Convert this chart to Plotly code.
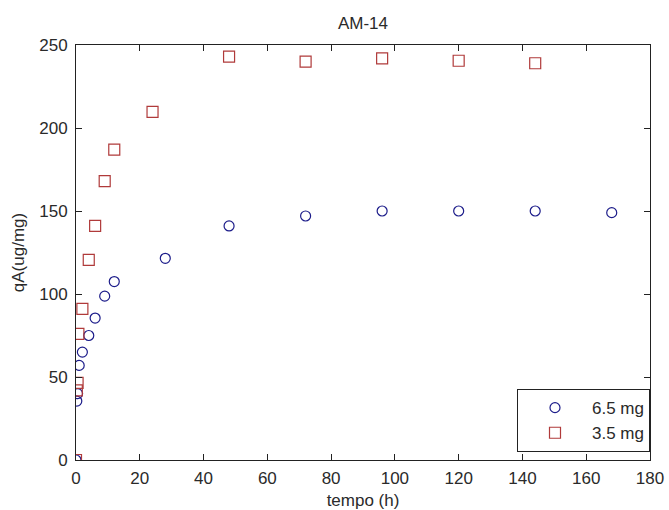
import plotly.graph_objects as go

# Data
t_65 = [0, 0.25, 0.5, 1, 2, 4, 6, 9, 12, 28, 48, 72, 96, 120, 144, 168]
q_65 = [0, 35.5, 40, 57, 65, 75, 85.5, 98.7, 107.5, 121.5, 141, 147, 150, 150, 150, 149]

t_35 = [0, 0.25, 0.5, 0.75, 2, 4, 6, 9, 12, 24, 48, 72, 96, 120, 144]
q_35 = [0, 42, 46.5, 76, 91, 120.5, 141, 168, 187, 209.7, 243, 240, 242, 240.5, 239]

x_ticks = [0, 20, 40, 60, 80, 100, 120, 140, 160, 180]
y_ticks = [0, 50, 100, 150, 200, 250]

FONT = "Liberation Sans, Arial, sans-serif"
FS = 17
TXT = "#2a2a2a"

fig = go.Figure()
fig.add_trace(go.Scatter(
    x=t_65, y=q_65, mode="markers", name="6.5 mg",
    marker=dict(symbol="circle-open", size=10, color="#1c1c8a", line=dict(width=1.2, color="#1c1c8a")),
))
fig.add_trace(go.Scatter(
    x=t_35, y=q_35, mode="markers", name="3.5 mg",
    marker=dict(symbol="square-open", size=11, color="#b03a3a", line=dict(width=1.2, color="#b03a3a")),
))

axis_common = dict(
    showgrid=False, zeroline=False, showline=True, linecolor="#222", linewidth=1,
    mirror="ticks", ticks="inside", ticklen=6, tickcolor="#222", tickwidth=1,
    tickfont=dict(family=FONT, size=FS, color=TXT), automargin=False,
)

fig.update_layout(
    width=669, height=510,
    margin=dict(l=76, r=19, t=45, b=50),
    paper_bgcolor="white", plot_bgcolor="white",
    font=dict(family=FONT, size=FS, color=TXT),
    title=dict(text="AM-14", x=363/669, xanchor="center", y=1-23/510, yanchor="middle",
               yref="container", font=dict(family=FONT, size=FS, color=TXT)),
    xaxis=dict(range=[0, 180], tickvals=x_ticks, ticklabelstandoff=3,
               title=dict(text="tempo (h)", standoff=6, font=dict(family=FONT, size=FS, color=TXT)),
               **axis_common),
    yaxis=dict(range=[0, 250], tickvals=y_ticks, ticklabelstandoff=4,
               title=dict(text="qA(ug/mg)", standoff=10, font=dict(family=FONT, size=FS, color=TXT)),
               **axis_common),
    legend=dict(x=1, y=0.019, xanchor="right", yanchor="bottom",
                bgcolor="white", bordercolor="#222", borderwidth=1,
                font=dict(family=FONT, size=FS, color=TXT),
                itemwidth=64, tracegroupgap=0),
    showlegend=True,
)

fig.write_html("out.html")
